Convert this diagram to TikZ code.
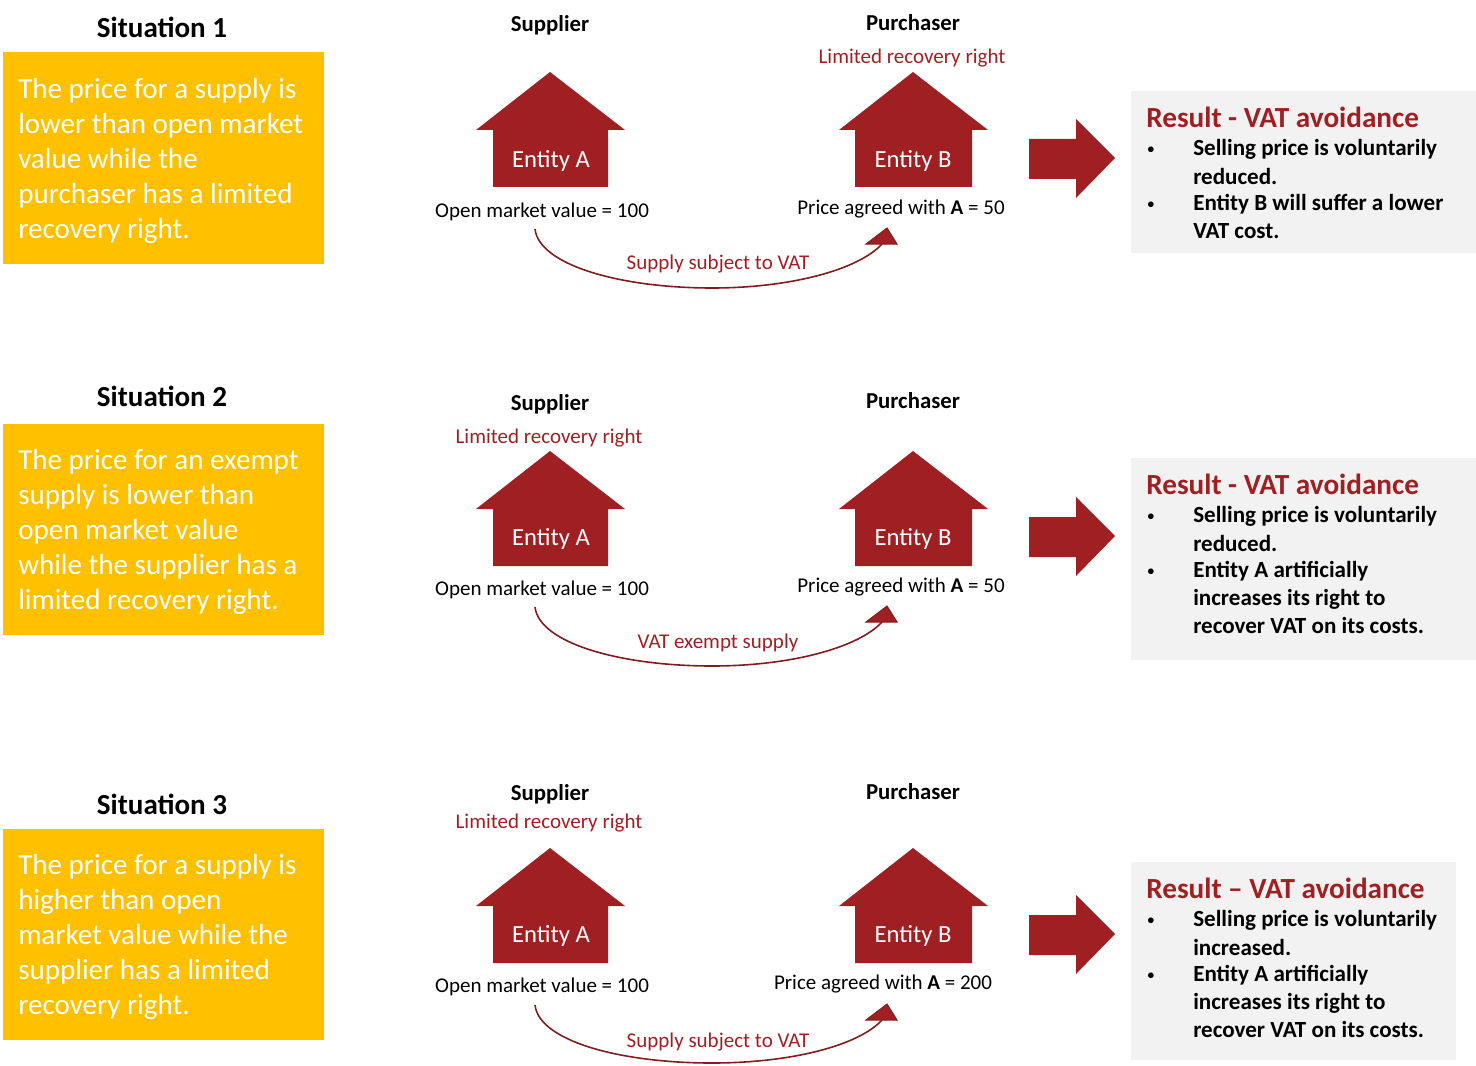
\documentclass[tikz,border=0pt]{standalone}
\usepackage{fontspec}
\setmainfont{Carlito}
\definecolor{houseRed}{HTML}{A01F22}
\definecolor{lineRed}{HTML}{7F1D1F}
\definecolor{sitYellow}{HTML}{FFC000}
\definecolor{resGrey}{HTML}{F2F2F2}
\tikzset{
    sittitle/.style = {font = \fontsize{21.8}{26}\selectfont\bfseries},
    sitbox/.style = {fill = sitYellow, anchor = north west, minimum width = 240.75pt, minimum height = 158.25pt, inner sep = 0pt},
    sittext/.style = {text = white, anchor = west, inner sep = 0pt, align = left, font = \fontsize{21.8}{26.25}\selectfont},
    role/.style = {font = \fontsize{17.1}{20}\selectfont\bfseries},
    redlabel/.style = {text = houseRed, font = \fontsize{15.75}{19}\selectfont},
    plainlabel/.style = {font = \fontsize{15.75}{19}\selectfont},
    housetext/.style = {text = white, font = \fontsize{18.5}{22}\selectfont},
    resbox/.style = {fill = resGrey, anchor = north west, inner sep = 0pt},
    reshead/.style = {text = houseRed, anchor = west, inner sep = 0pt, font = \fontsize{21.9}{26}\selectfont\bfseries},
    restext/.style = {anchor = west, inner sep = 0pt, font = \fontsize{17.3}{20}\selectfont\bfseries},
    housefill/.style = {fill = houseRed}
}
\newcommand{\resbul}{\makebox[35.25pt][l]{\hspace{1pt}\raisebox{1.6pt}{\fontsize{10}{10}\selectfont\textbullet}}}
\begin{document}
\begin{tikzpicture}[x = 0.75pt, y = -0.75pt]
    \useasboundingbox (0, 0) rectangle (1476, 1066);
    % houses, big arrows and curved supplies
    \foreach \n/\h/\t/\a/\c in {1/0/0/0/0, 2/379/378/378/378, 3/776/776/776/775} {
        \fill [housefill] (550, 72 + \h) -- (625, 130 + \h) -- (608, 130 + \h) -- (608, 187 + \h) -- (493, 187 + \h) -- (493, 130 + \h) -- (476, 130 + \h) -- cycle;
        \fill [housefill] (913, 72 + \h) -- (988, 130 + \h) -- (972, 130 + \h) -- (972, 187 + \h) -- (855, 187 + \h) -- (855, 130 + \h) -- (839, 130 + \h) -- cycle;
        \fill [housefill] (1029, 139 + \a) -- (1076, 139 + \a) -- (1076, 119 + \a) -- (1115, 158 + \a) -- (1076, 198 + \a) -- (1076, 179 + \a) -- (1029, 179 + \a) -- cycle;
        \coordinate (start\n) at (535, 229 + \t);
        \coordinate (low\n) at (712, 288 + \c);
        \coordinate (end\n) at (882, 244 + \t);
        \draw [lineRed, line width = 1.2pt] (start\n) .. controls +(4, 36) and +(-92, 0) .. (low\n) .. controls +(78, 0) and +(-24, 26) .. (end\n);
        \draw [lineRed, fill = houseRed, line width = 0.75pt] (887, 228 + \t) -- (897, 244 + \t) -- (866, 244 + \t) -- cycle;
    }
    % situation 1
    \node [sittitle] (title1) at (162, 27) {Situation 1};
    \node [sitbox, minimum height = 159pt] (sit1) at (3, 52) {};
    \node [sittext] (txt1) at (18, 161) {The price for a supply is\\lower than open market\\value while the\\purchaser has a limited\\recovery right.};
    \node [role] (sup1) at (550, 25) {Supplier};
    \node [role] (pur1) at (913, 23) {Purchaser};
    \node [redlabel] (lim1) at (912, 58) {Limited recovery right};
    \node [housetext] (entA1) at (551, 161) {Entity A};
    \node [housetext] (entB1) at (913, 161) {Entity B};
    \node [plainlabel] (omv1) at (542, 212) {Open market value = 100};
    \node [plainlabel] (price1) at (901, 209) {Price agreed with \textbf{A} = 50};
    \node [redlabel] (vat1) at (718, 264) {Supply subject to VAT};
    \node [resbox, minimum width = 258.75pt, minimum height = 121.5pt] (res1) at (1131, 91) {};
    \node [reshead] (head1) at (1146, 117) {Result - VAT avoidance};
    \node [restext] (a1) at (1146, 149) {\resbul Selling price is voluntarily};
    \node [restext] (b1) at (1193, 176) {reduced.};
    \node [restext] (c1) at (1146, 204) {\resbul Entity B will suffer a lower};
    \node [restext] (d1) at (1193, 231) {VAT cost.};
    % situation 2
    \node [sittitle] (title2) at (162, 396) {Situation 2};
    \node [sitbox] (sit2) at (3, 424) {};
    \node [sittext] (txt2) at (18, 532) {The price for an exempt\\supply is lower than\\open market value\\while the supplier has a\\limited recovery right.};
    \node [role] (sup2) at (550, 404) {Supplier};
    \node [role] (pur2) at (913, 401) {Purchaser};
    \node [redlabel] (lim2) at (549, 438) {Limited recovery right};
    \node [housetext] (entA2) at (551, 539) {Entity A};
    \node [housetext] (entB2) at (913, 539) {Entity B};
    \node [plainlabel] (omv2) at (542, 590) {Open market value = 100};
    \node [plainlabel] (price2) at (901, 587) {Price agreed with \textbf{A} = 50};
    \node [redlabel] (vat2) at (718, 643) {VAT exempt supply};
    \node [resbox, minimum width = 258.75pt, minimum height = 151.5pt] (res2) at (1131, 458) {};
    \node [reshead] (head2) at (1146, 484) {Result - VAT avoidance};
    \node [restext] (a2) at (1146, 516) {\resbul Selling price is voluntarily};
    \node [restext] (b2) at (1193, 543) {reduced.};
    \node [restext] (c2) at (1146, 571) {\resbul Entity A artificially};
    \node [restext] (d2) at (1193, 599) {increases its right to};
    \node [restext] (e2) at (1193, 625) {recover VAT on its costs.};
    % situation 3
    \node [sittitle] (title3) at (162, 804) {Situation 3};
    \node [sitbox] (sit3) at (3, 829) {};
    \node [sittext] (txt3) at (18, 937) {The price for a supply is\\higher than open\\market value while the\\supplier has a limited\\recovery right.};
    \node [role] (sup3) at (550, 794) {Supplier};
    \node [role] (pur3) at (913, 792) {Purchaser};
    \node [redlabel] (lim3) at (549, 823) {Limited recovery right};
    \node [housetext] (entA3) at (551, 936) {Entity A};
    \node [housetext] (entB3) at (913, 936) {Entity B};
    \node [plainlabel] (omv3) at (542, 987) {Open market value = 100};
    \node [plainlabel] (price3) at (883, 984) {Price agreed with \textbf{A} = 200};
    \node [redlabel] (vat3) at (718, 1042) {Supply subject to VAT};
    \node [resbox, minimum width = 243.75pt, minimum height = 148.5pt] (res3) at (1131, 862) {};
    \node [reshead] (head3) at (1146, 888) {Result -- VAT avoidance};
    \node [restext] (a3) at (1146, 920) {\resbul Selling price is voluntarily};
    \node [restext] (b3) at (1193, 947) {increased.};
    \node [restext] (c3) at (1146, 975) {\resbul Entity A artificially};
    \node [restext] (d3) at (1193, 1003) {increases its right to};
    \node [restext] (e3) at (1193, 1029) {recover VAT on its costs.};
\end{tikzpicture}
\end{document}
